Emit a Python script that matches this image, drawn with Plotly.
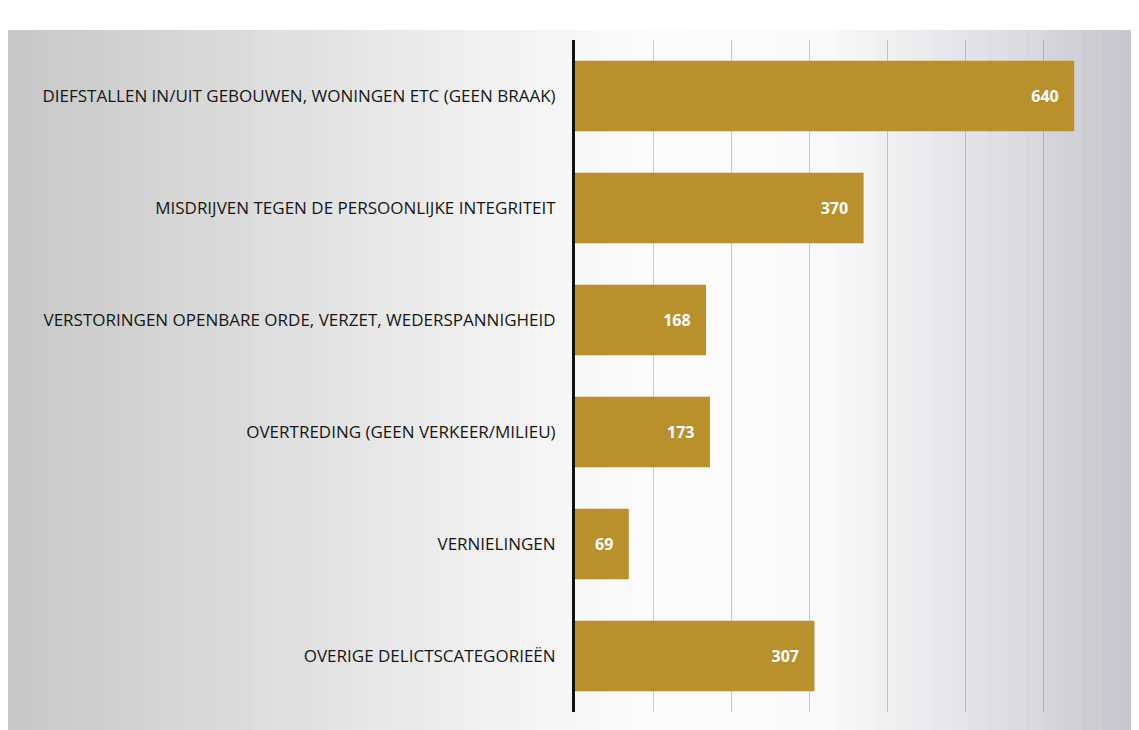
import plotly.graph_objects as go

categories = [
    "DIEFSTALLEN IN/UIT GEBOUWEN, WONINGEN ETC (GEEN BRAAK)",
    "MISDRIJVEN TEGEN DE PERSOONLIJKE INTEGRITEIT",
    "VERSTORINGEN OPENBARE ORDE, VERZET, WEDERSPANNIGHEID",
    "OVERTREDING (GEEN VERKEER/MILIEU)",
    "VERNIELINGEN",
    "OVERIGE DELICTSCATEGORIEËN",
]
values = [640, 370, 168, 173, 69, 307]
x_ticks = [0, 100, 200, 300, 400, 500, 600, 700]

OFF = 8  # page body margin
W, H = 1139 - OFF, 730 - OFF
L, R, T, B = 575 - OFF, 18, 40 - OFF, 18
pw = W - L - R
ph = H - T - B

fig = go.Figure()
fig.add_trace(go.Bar(
    y=categories, x=values, orientation="h",
    marker=dict(color="#B8902C", line=dict(width=0)),
    width=0.63,
    text=[str(v) for v in values], textposition="inside",
    insidetextanchor="end",
    textfont=dict(color="white", size=16, family="Open Sans"),
    texttemplate="<b>%{text}</b>   ",
    hoverinfo="skip",
))

# background gradient (horizontal), in page pixels
stops = [(0, (198, 198, 198)), (250, (220, 220, 220)), (480, (240, 240, 240)),
         (650, (252, 252, 252)), (820, (250, 250, 252)), (970, (228, 228, 232)),
         (1139, (196, 196, 204))]
def col(px):
    for (a, ca), (b, cb) in zip(stops, stops[1:]):
        if a <= px <= b:
            t = (px - a) / (b - a)
            c = [round(ca[i] + (cb[i] - ca[i]) * t) for i in range(3)]
            return "rgb(%d,%d,%d)" % tuple(c)
    return "rgb(200,200,200)"

shapes = []
n = 60
for i in range(n):
    x0 = W * i / n
    x1 = W * (i + 1) / n + 1
    shapes.append(dict(type="rect", layer="below", xref="paper", yref="paper",
                       x0=(x0 - L) / pw, x1=(x1 - L) / pw,
                       y0=-B / ph, y1=(H - 30 + OFF) / ph - (T - 0) / ph + (T - 30 + OFF) / ph * 0 ,
                       fillcolor=col((x0 + x1) / 2 + OFF), line=dict(width=0)))
# fix top of background to page y=30
for s in shapes:
    s["y1"] = (H - B - (30 - OFF)) / ph

fig.update_layout(
    width=W, height=H,
    margin=dict(l=L, r=R, t=T, b=B),
    paper_bgcolor="white", plot_bgcolor="rgba(0,0,0,0)",
    shapes=shapes,
    showlegend=False,
    bargap=0.37,
    xaxis=dict(range=[0, 700], tickvals=x_ticks, showticklabels=False,
               showgrid=True, gridcolor="rgba(110,110,110,0.35)", gridwidth=1,
               zeroline=False, showline=False),
    yaxis=dict(autorange="reversed", showgrid=False, zeroline=False,
               showline=True, linecolor="#111", linewidth=2.5,
               ticks="", ticksuffix="   ",
               tickfont=dict(family="Open Sans", size=17, color="#161616")),
)

fig.write_html("out.html")
